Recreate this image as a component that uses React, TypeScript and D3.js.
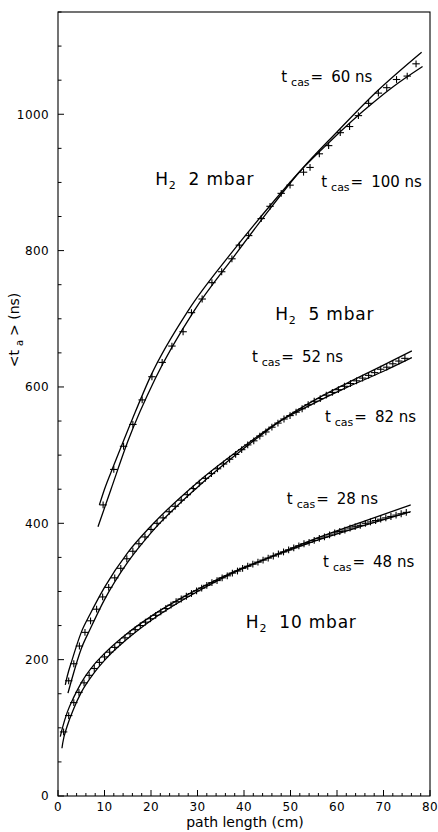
import React from 'react';
import * as d3 from 'd3';

// ---------- data ----------
// H2 2 mbar: measured points and fits
const x2mbar = [9.7, 12.0, 14.1, 16.1, 18.1, 20.2, 22.4, 24.5, 26.9, 28.7, 31.0, 33.1, 35.2, 37.4, 39.0, 41.0, 43.7, 45.6, 48.0, 49.9, 52.8, 54.2, 56.2, 58.2, 60.7, 62.7, 64.6, 66.8, 68.9, 70.7, 72.8, 75.1, 77.0];
const y2mbar = [427, 479, 513, 545, 581, 615, 636, 660, 681, 709, 729, 753, 769, 788, 808, 822, 847, 865, 884, 896, 915, 922, 942, 954, 973, 982, 998, 1016, 1031, 1039, 1051, 1056, 1074];
const fit2mbar60X = [8.6, 11.4, 15, 20.9, 29.3, 37.9, 45, 52, 60, 68.5, 78.2];
const fit2mbar60Y = [395, 450, 520, 612, 712, 792, 856, 916, 974, 1033, 1091];
const fit2mbar100X = [8.9, 10, 12, 16, 20, 28, 37, 45, 52, 58.5, 65.7, 72, 78.4];
const fit2mbar100Y = [427, 450, 485, 553, 617, 712, 794, 861, 916, 960, 1005, 1040, 1070];

// H2 5 mbar
const x5mbar = [2.3, 3.4, 4.6, 5.8, 7.0, 8.3, 9.6, 10.9, 12.2, 13.5, 14.8, 16.1, 17.4, 18.7, 20.0, 21.3, 22.6, 23.9, 25.2, 26.5, 27.8, 29.1, 30.4, 31.7, 33.0, 34.3, 35.6, 36.9, 38.2, 39.5, 40.8, 42.1, 43.4, 44.7, 46.0, 47.3, 48.6, 49.9, 51.2, 52.5, 53.8, 55.1, 56.4, 57.7, 59.0, 60.3, 61.6, 62.9, 64.2, 65.5, 66.8, 68.1, 69.4, 70.7, 72.0, 73.3, 74.6];
const y5mbar = [169, 194, 220, 240, 257, 274, 292, 306, 320, 334, 348, 359, 370, 380, 391, 400, 408, 417, 425, 434, 442, 451, 459, 466, 473, 480, 487, 494, 501, 508, 515, 521, 528, 534, 541, 547, 553, 558, 563, 568, 574, 579, 583, 588, 592, 596, 601, 605, 609, 613, 617, 621, 626, 629, 634, 638, 642];
const fit5mbar82X = [1.57, 2, 3, 5, 7, 10, 15, 20, 30, 40, 48, 55, 62, 70, 76.1];
const fit5mbar82Y = [163, 176, 199, 240, 268, 306, 357, 396, 460, 513, 551, 576, 599, 623, 643];
const fit5mbar52X = [2.15, 3, 5, 7, 10, 15, 20, 30, 40, 48, 55, 62, 70, 76.1];
const fit5mbar52Y = [151, 172, 216, 246, 288, 343, 386, 453, 510, 551, 580, 605, 632, 653];

// H2 10 mbar
const x10mbar = [1.2, 2.3, 3.4, 4.5, 5.6, 6.7, 7.8, 8.9, 10, 11.1, 12.2, 13.3, 14.4, 15.5, 16.6, 17.7, 18.8, 19.9, 21, 22.1, 23.2, 24.3, 25.4, 26.5, 27.6, 28.7, 29.8, 30.9, 32, 33.1, 34.2, 35.3, 36.4, 37.5, 38.6, 39.7, 40.8, 41.9, 43, 44.1, 45.2, 46.3, 47.4, 48.5, 49.6, 50.7, 51.8, 52.9, 54, 55.1, 56.2, 57.3, 58.4, 59.5, 60.6, 61.7, 62.8, 63.9, 65, 66.1, 67.2, 68.3, 69.4, 70.5, 71.6, 72.7, 73.8, 74.9];
const y10mbar = [94, 118, 137, 152, 166, 177, 187, 196, 204, 211, 218, 225, 232, 238, 244, 250, 255, 260, 265, 270, 275, 280, 285, 289, 293, 297, 301, 305, 309, 313, 316, 320, 323, 327, 330, 334, 337, 340, 343, 346, 349, 352, 355, 358, 361, 364, 367, 370, 372, 375, 378, 380, 383, 386, 388, 390, 393, 395, 397, 400, 402, 404, 406, 408, 410, 412, 414, 416];
const fit10mbar48X = [0.49, 1, 2, 3.4, 5, 7.8, 10, 15, 20, 30, 40, 45, 55, 65, 75.85];
const fit10mbar48Y = [87, 101, 123, 145, 166, 193, 209, 239, 263.5, 303, 335.5, 348.5, 373.5, 395, 417];
const fit10mbar28X = [0.85, 1, 2, 3.4, 5, 7.8, 10, 15, 20, 30, 40, 45, 55, 65, 75.85];
const fit10mbar28Y = [70, 77, 103, 128.5, 152, 181, 199, 231, 257.5, 300, 334.5, 348.5, 376.5, 401, 427];

// error half-widths (cm, ns)
const xErr = 0.8;
const yErr = 5;

// axes
const xDomain = [0, 80];
const yDomain = [0, 1150];
const xTickLabels = [0, 10, 20, 30, 40, 50, 60, 70, 80];
const xMinorTicks = d3.range(0, 81, 2);
const yTickLabels = [0, 200, 400, 600, 800, 1000];
const yMinorTicks = d3.range(0, 1151, 50);

// annotations (text, data x, data y)
const pressureLabels = [
  { p: '2 mbar', x: 20.9, y: 896 },
  { p: '5 mbar', x: 46.7, y: 698 },
  { p: '10 mbar', x: 40.4, y: 246 },
];
const tcasLabels = [
  { v: '60', x: 48.0, y: 1048 },
  { v: '100', x: 56.6, y: 893 },
  { v: '52', x: 41.7, y: 637 },
  { v: '82', x: 57.4, y: 548 },
  { v: '28', x: 49.2, y: 428 },
  { v: '48', x: 57.0, y: 336 },
];

const FONT = "'DejaVu Sans', 'Liberation Sans', sans-serif";

export default function App() {
  const x = d3.scaleLinear().domain(xDomain).range([58, 430]);
  const y = d3.scaleLinear().domain(yDomain).range([796, 12]);

  const line = d3
    .line<[number, number]>()
    .x((d) => x(d[0]))
    .y((d) => y(d[1]))
    .curve(d3.curveMonotoneX);

  const fits: [number[], number[]][] = [
    [fit2mbar60X, fit2mbar60Y],
    [fit2mbar100X, fit2mbar100Y],
    [fit5mbar82X, fit5mbar82Y],
    [fit5mbar52X, fit5mbar52Y],
    [fit10mbar48X, fit10mbar48Y],
    [fit10mbar28X, fit10mbar28Y],
  ];
  const series: [number[], number[]][] = [
    [x2mbar, y2mbar],
    [x5mbar, y5mbar],
    [x10mbar, y10mbar],
  ];

  return (
    <svg
      width={438}
      height={832}
      style={{ position: 'absolute', left: 0, top: 0, background: '#fff' }}
      fontFamily={FONT}
    >
      <rect x={0} y={0} width={438} height={832} fill="#fff" />
      {/* frame */}
      <rect x={58} y={12} width={372} height={784} fill="none" stroke="#000" strokeWidth={1.1} />

      {/* x ticks */}
      {xMinorTicks.map((t) => (
        <line key={'xm' + t} x1={x(t)} x2={x(t)} y1={796} y2={796 - (t % 10 === 0 ? 6 : 3)} stroke="#000" strokeWidth={1} />
      ))}
      {xTickLabels.map((t) => (
        <text key={'xl' + t} x={x(t)} y={811} fontSize={12} textAnchor="middle" letterSpacing={0.4}>
          {t}
        </text>
      ))}
      {/* y ticks */}
      {yMinorTicks.map((t) => (
        <line key={'ym' + t} x1={58} x2={58 + (t % 200 === 0 ? 6 : 3.5)} y1={y(t)} y2={y(t)} stroke="#000" strokeWidth={1} />
      ))}
      {yTickLabels.map((t) => (
        <text key={'yl' + t} x={49} y={y(t)} dy="0.36em" fontSize={12} textAnchor="end" letterSpacing={0.4}>
          {t}
        </text>
      ))}

      {/* axis titles */}
      <text x={245} y={827} fontSize={14} textAnchor="middle">
        path length (cm)
      </text>
      <text transform="translate(19,330) rotate(-90)" fontSize={14} textAnchor="middle">
        {'<t'}
        <tspan dx={4} dy={4} fontSize={10}>a</tspan>
        <tspan dx={4} dy={-4}>{'> (ns)'}</tspan>
      </text>

      {/* fits */}
      {fits.map(([xs, ys], i) => (
        <path
          key={'f' + i}
          d={line(d3.zip(xs, ys) as [number, number][]) || ''}
          fill="none"
          stroke="#000"
          strokeWidth={1.3}
        />
      ))}

      {/* data points with error bars */}
      {series.map(([xs, ys], si) =>
        d3.zip(xs, ys).map(([xv, yv], i) => (
          <g key={`p${si}-${i}`} stroke="#000" strokeWidth={1.1}>
            <line x1={x(xv - xErr)} x2={x(xv + xErr)} y1={y(yv)} y2={y(yv)} />
            <line x1={x(xv)} x2={x(xv)} y1={y(yv - yErr)} y2={y(yv + yErr)} />
          </g>
        ))
      )}

      {/* annotations */}
      {pressureLabels.map((l) => (
        <text key={l.p} x={x(l.x)} y={y(l.y)} fontSize={17} letterSpacing={0.8}>
          H
          <tspan dy={4} fontSize={11}>2</tspan>
          <tspan dx={12} dy={-4}>{l.p}</tspan>
        </text>
      ))}
      {tcasLabels.map((l) => (
        <text key={l.v} x={x(l.x)} y={y(l.y)} fontSize={15}>
          t
          <tspan dx={4} dy={4} fontSize={11}>cas</tspan>
          <tspan dx={1} dy={-4}>=</tspan>
          <tspan dx={8}>{l.v + ' ns'}</tspan>
        </text>
      ))}
    </svg>
  );
}
